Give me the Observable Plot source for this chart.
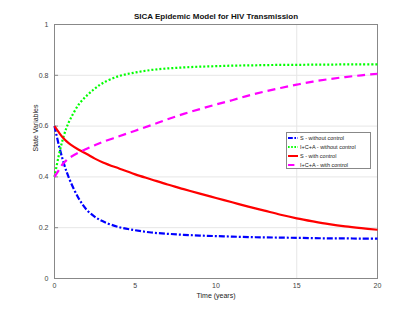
<!DOCTYPE html>
<html>
<head>
<meta charset="utf-8">
<script src="https://cdn.jsdelivr.net/npm/d3@7"></script>
<script src="https://cdn.jsdelivr.net/npm/@observablehq/plot@0.6"></script>
<style>
  html, body { margin: 0; padding: 0; background: #fff; }
  #wrap { position: relative; width: 417px; height: 313px; font-family: "Liberation Sans", Arial, sans-serif; }
  #legend { position: absolute; left: 286px; top: 132px; width: 85px; height: 37px; border: 1px solid #888; background: #fff; box-sizing: border-box; font-size: 5.5px; color: #222; }
  #legend .row { position: absolute; left: 0; height: 9px; display: flex; align-items: center; white-space: nowrap; }
  #legend svg { margin-left: 1px; margin-right: 2px; }
</style>
</head>
<body>
<div id="wrap"></div>
<script>
const title = "SICA Epidemic Model for HIV Transmission";
const xLabel = "Time (years)";
const yLabel = "State Variables";
const xTicks = [0, 5, 10, 15, 20];
const yTicks = [0, 0.2, 0.4, 0.6, 0.8, 1];
const xGrid = [15];

const time = [0, 0.25, 0.5, 0.75, 1, 1.5, 2, 2.5, 3, 4, 5, 6, 7, 8, 9, 10, 11, 12, 13, 14, 15, 16, 17, 18, 19, 20];
const sNoControl   = [0.6, 0.53, 0.47, 0.42, 0.38, 0.315, 0.27, 0.243, 0.225, 0.202, 0.19, 0.181, 0.176, 0.172, 0.169, 0.167, 0.165, 0.163, 0.162, 0.161, 0.16, 0.159, 0.158, 0.158, 0.157, 0.157];
const icaNoControl = [0.4, 0.48, 0.545, 0.595, 0.63, 0.685, 0.72, 0.748, 0.77, 0.797, 0.811, 0.821, 0.827, 0.831, 0.834, 0.836, 0.838, 0.839, 0.84, 0.841, 0.841, 0.842, 0.842, 0.843, 0.843, 0.843];
const sControl     = [0.6, 0.577, 0.556, 0.54, 0.527, 0.507, 0.49, 0.472, 0.457, 0.433, 0.41, 0.39, 0.37, 0.352, 0.334, 0.317, 0.3, 0.283, 0.267, 0.251, 0.237, 0.225, 0.214, 0.205, 0.198, 0.192];
const icaControl   = [0.4, 0.425, 0.45, 0.466, 0.478, 0.496, 0.511, 0.525, 0.538, 0.56, 0.582, 0.604, 0.627, 0.648, 0.667, 0.685, 0.702, 0.72, 0.736, 0.75, 0.763, 0.775, 0.785, 0.793, 0.8, 0.806];

const seriesNames = ["S - without control", "I+C+A - without control", "S - with control", "I+C+A - with control"];
const seriesValues = [sNoControl, icaNoControl, sControl, icaControl];
const seriesColors = ["#0000ff", "#00ff00", "#ff0000", "#ff00ff"];
const seriesDash = ["6,2,2,2", "2,2", null, "8,5"];

const rows = [];
seriesNames.forEach((name, i) => {
  time.forEach((t, j) => rows.push({ series: name, t, v: seriesValues[i][j] }));
});

const font = "Liberation Sans, Arial, sans-serif";

const lineMarks = seriesNames.map((name, i) =>
  Plot.line(rows.filter(d => d.series === name), {
    x: "t", y: "v",
    stroke: seriesColors[i],
    strokeWidth: 2.2,
    strokeDasharray: seriesDash[i] ?? undefined,
    strokeLinecap: "butt",
    curve: "catmull-rom"
  })
);

const chart = Plot.plot({
  width: 417,
  height: 313,
  marginLeft: 54,
  marginRight: 40,
  marginTop: 24,
  marginBottom: 35,
  style: { fontFamily: font, fontSize: "7px", background: "#fff", color: "#444" },
  x: { domain: [0, 20] },
  y: { domain: [0, 1] },
  marks: [
    Plot.ruleY(yTicks.filter(d => d > 0 && d < 1), { stroke: "#e6e6e6", strokeWidth: 1 }),
    Plot.ruleX(xGrid, { stroke: "#e6e6e6", strokeWidth: 1 }),
    Plot.frame({ stroke: "#888" }),
    Plot.ruleY(yTicks, { x1: 0, x2: 0.25, stroke: "#888" }),
    Plot.axisX({ ticks: xTicks, tickSize: 0, tickPadding: 5, label: null, tickFormat: d => String(d), fontSize: 7 }),
    Plot.axisY({ ticks: yTicks, tickSize: 0, tickPadding: 6, label: null, tickFormat: d => String(d), fontSize: 7 }),
    ...lineMarks,
    Plot.text([title], { frameAnchor: "top", dy: -11, fontWeight: "bold", fontSize: 8, fill: "#111" }),
    Plot.text([xLabel], { frameAnchor: "bottom", dy: 19, fontSize: 7, fill: "#222" }),
    Plot.text([yLabel], { frameAnchor: "left", dx: -19, rotate: -90, fontSize: 7, fill: "#222" })
  ]
});

const wrap = document.getElementById("wrap");
wrap.appendChild(chart);

const legend = document.createElement("div");
legend.id = "legend";
seriesNames.forEach((name, i) => {
  const row = document.createElement("div");
  row.className = "row";
  row.style.top = (i * 9.2) + "px";
  const dash = seriesDash[i] ? `stroke-dasharray="${seriesDash[i].split(',').map(x => x * 0.8).join(',')}"` : "";
  row.innerHTML = `<svg width="10" height="4"><line x1="0" y1="2" x2="10" y2="2" stroke="${seriesColors[i]}" stroke-width="2" ${dash}/></svg><span>${name}</span>`;
  legend.appendChild(row);
});
wrap.appendChild(legend);
</script>
</body>
</html>
